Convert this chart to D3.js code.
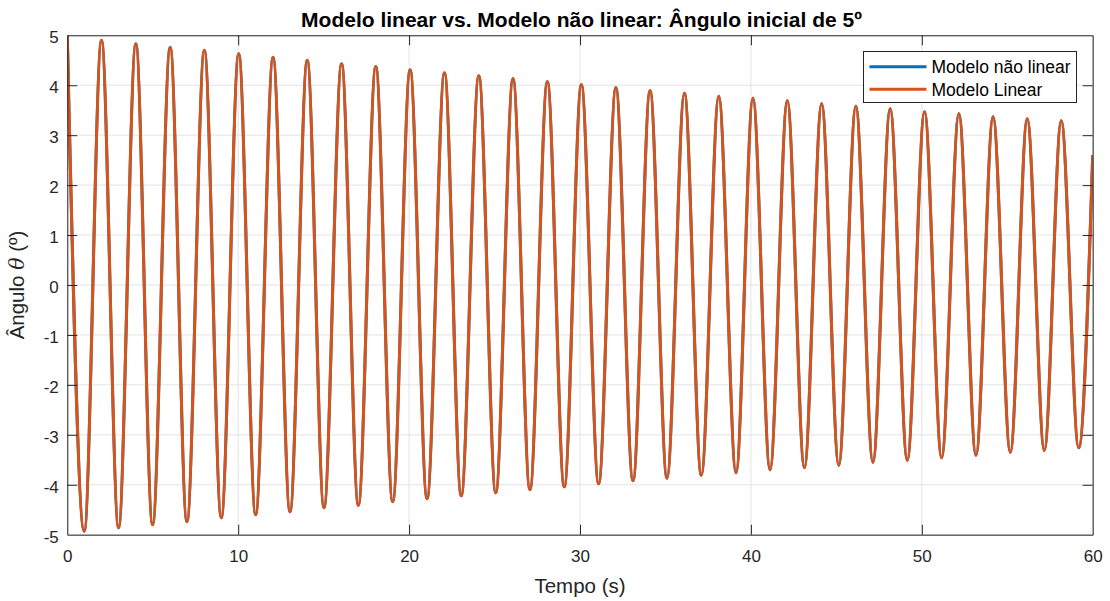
<!DOCTYPE html>
<html>
<head>
<meta charset="utf-8">
<script src="https://cdn.jsdelivr.net/npm/d3@7"></script>
<style>
  html, body { margin: 0; padding: 0; background: #fff; }
  svg { display: block; font-family: "Liberation Sans", Arial, Helvetica, sans-serif; }
</style>
</head>
<body>
<svg id="chart" width="1110" height="601"></svg>
<script>
// Pendulum angle (degrees) vs time (s): start, alternating extrema, end of run
const tempo = [0,
  0.99, 2.00, 3.00, 4.01, 4.99, 6.02, 7.00, 8.02, 9.01, 10.03, 11.02, 12.04, 13.03, 14.04, 15.02, 16.05,
  17.03, 18.05, 19.04, 20.06, 21.05, 22.07, 23.05, 24.08, 25.07, 26.08, 27.07, 28.09, 29.08, 30.08,
  31.09, 32.10, 33.10, 34.10, 35.09, 36.11, 37.10, 38.12, 39.13, 40.12, 41.12, 42.13, 43.13, 44.14,
  45.14, 46.14, 47.14, 48.15, 49.15, 50.16, 51.16, 52.17, 53.17, 54.17, 55.18, 56.17, 57.17, 58.16,
  59.18, 60];

const anguloLinear = [5,
  -4.93, 4.90, -4.86, 4.83, -4.80, 4.76, -4.74, 4.70, -4.66, 4.63, -4.60, 4.56, -4.54, 4.50, -4.46, 4.43,
  -4.41, 4.375, -4.34, 4.31, -4.28, 4.25, -4.22, 4.19, -4.16, 4.13, -4.10, 4.07, -4.04, 4.01,
  -3.98, 3.95, -3.92, 3.89, -3.87, 3.84, -3.81, 3.78, -3.76, 3.74, -3.70, 3.69, -3.66, 3.63,
  -3.61, 3.58, -3.55, 3.53, -3.51, 3.47, -3.46, 3.43, -3.41, 3.37, -3.35, 3.33, -3.31, 3.29,
  -3.26, 2.6];

// At 5° the non-linear solution coincides with the linear one at this scale
const anguloNaoLinear = anguloLinear.slice();

const xTicks = [0, 10, 20, 30, 40, 50, 60];
const yTicks = [-5, -4, -3, -2, -1, 0, 1, 2, 3, 4, 5];

const seriesNames = ["Modelo não linear", "Modelo Linear"];
const seriesColors = ["#0072BD", "#D95319"];

(function draw() {
  const svg = d3.select("#chart");
  const pLeft = 67.3, pRight = 1092.7, pTop = 35.3, pBottom = 534.7;

  const x = d3.scaleLinear().domain([0, 60]).range([pLeft, pRight]);
  const y = d3.scaleLinear().domain([-5, 5]).range([pBottom, pTop]);

  const axisColor = "#262626";
  const gridColor = "#e3e3e3";

  // grid
  const grid = svg.append("g");
  grid.selectAll(".gx").data(xTicks).join("line")
    .attr("x1", d => x(d)).attr("x2", d => x(d))
    .attr("y1", pTop).attr("y2", pBottom)
    .attr("stroke", gridColor).attr("stroke-width", 1);
  grid.selectAll(".gy").data(yTicks).join("line")
    .attr("y1", d => y(d)).attr("y2", d => y(d))
    .attr("x1", pLeft).attr("x2", pRight)
    .attr("stroke", gridColor).attr("stroke-width", 1);

  // data lines
  svg.append("defs").append("clipPath").attr("id", "plotClip")
    .append("rect").attr("x", pLeft).attr("y", pTop - 1)
    .attr("width", pRight - pLeft).attr("height", pBottom - pTop + 2);

  const line = d3.line().x(d => x(d[0])).y(d => y(d[1])).curve(d3.curveMonotoneX);
  const plot = svg.append("g").attr("clip-path", "url(#plotClip)");
  [anguloNaoLinear, anguloLinear].forEach((vals, i) => {
    plot.append("path")
      .datum(tempo.map((t, k) => [t, vals[k]]))
      .attr("d", line)
      .attr("fill", "none")
      .attr("stroke", seriesColors[i])
      .attr("stroke-width", 3)
      .attr("stroke-linejoin", "round");
  });

  // axes (ticks pointing inward on all four sides)
  const tickLen = 10;
  const fmt = d => String(d);
  const bottomAxis = svg.append("g").attr("transform", `translate(0,${pBottom})`)
    .call(d3.axisBottom(x).tickValues(xTicks).tickFormat(fmt)
      .tickSizeInner(-tickLen).tickSizeOuter(0).tickPadding(15));
  const topAxis = svg.append("g").attr("transform", `translate(0,${pTop})`)
    .call(d3.axisTop(x).tickValues(xTicks).tickSizeInner(-tickLen).tickSizeOuter(0).tickFormat(""));
  const leftAxis = svg.append("g").attr("transform", `translate(${pLeft},0)`)
    .call(d3.axisLeft(y).tickValues(yTicks).tickFormat(fmt)
      .tickSizeInner(-tickLen).tickSizeOuter(0).tickPadding(8.5));
  const rightAxis = svg.append("g").attr("transform", `translate(${pRight},0)`)
    .call(d3.axisRight(y).tickValues(yTicks).tickSizeInner(-tickLen).tickSizeOuter(0).tickFormat(""));

  [bottomAxis, topAxis, leftAxis, rightAxis].forEach(g => {
    g.select(".domain").attr("stroke", axisColor).attr("stroke-width", 1);
    g.selectAll(".tick line").attr("stroke", axisColor).attr("stroke-width", 1);
    g.selectAll(".tick text").attr("fill", axisColor)
      .style("font-size", "17px").style("font-family", "'Liberation Sans', Arial, sans-serif");
  });
  leftAxis.selectAll(".tick text").attr("dy", "0.45em");
  // no tick marks at the box corners
  bottomAxis.selectAll(".tick").filter(d => d === 0 || d === 60).select("line").remove();
  topAxis.selectAll(".tick").filter(d => d === 0 || d === 60).select("line").remove();
  leftAxis.selectAll(".tick").filter(d => d === -5 || d === 5).select("line").remove();
  rightAxis.selectAll(".tick").filter(d => d === -5 || d === 5).select("line").remove();

  // title
  svg.append("text")
    .attr("x", 581.5).attr("y", 26.5)
    .attr("text-anchor", "middle")
    .attr("font-size", "21px").attr("font-weight", "bold").attr("fill", "#000")
    .text("Modelo linear vs. Modelo não linear: Ângulo inicial de 5º");

  // x label
  svg.append("text")
    .attr("x", (pLeft + pRight) / 2).attr("y", 593)
    .attr("text-anchor", "middle")
    .attr("font-size", "20.5px").attr("fill", axisColor)
    .text("Tempo (s)");

  // y label
  const yl = svg.append("text")
    .attr("transform", `translate(23.5,${(pTop + pBottom) / 2}) rotate(-90)`)
    .attr("text-anchor", "middle")
    .attr("font-size", "20.5px").attr("fill", axisColor);
  yl.append("tspan").text("Ângulo ");
  yl.append("tspan").attr("font-style", "italic")
    .attr("font-family", "'DejaVu Serif', 'Liberation Serif', serif").text("θ");
  yl.append("tspan").text(" (º)");

  // legend
  const lg = svg.append("g");
  lg.append("rect")
    .attr("x", 863.5).attr("y", 51.5).attr("width", 213).attr("height", 51)
    .attr("fill", "#fff").attr("stroke", axisColor).attr("stroke-width", 1);
  seriesNames.forEach((name, i) => {
    const yy = 66.7 + i * 22.6;
    lg.append("line")
      .attr("x1", 869.5).attr("x2", 926.5).attr("y1", yy).attr("y2", yy)
      .attr("stroke", seriesColors[i]).attr("stroke-width", 3);
    lg.append("text")
      .attr("x", 931.5).attr("y", yy + 6.5)
      .attr("font-size", "17.5px").attr("fill", "#000")
      .text(name);
  });
})();
</script>
</body>
</html>
